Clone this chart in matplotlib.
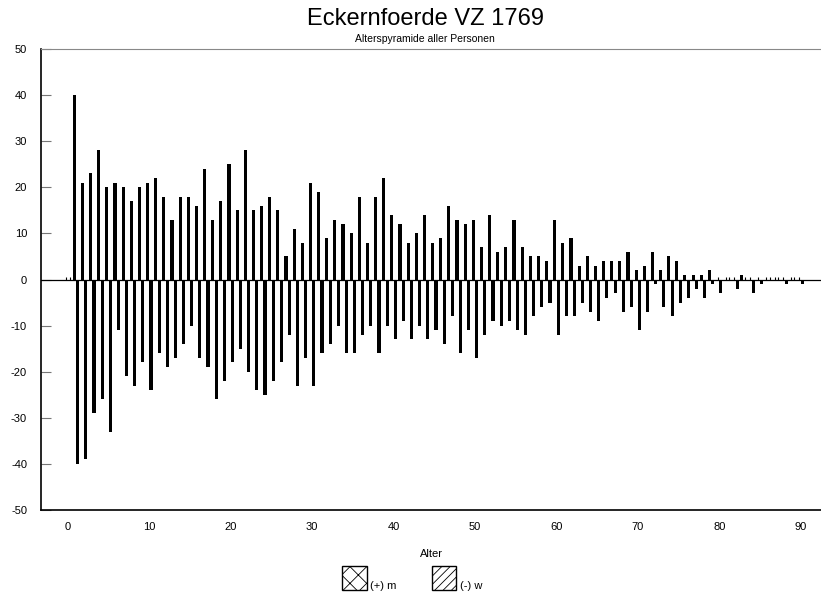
import numpy as np
import matplotlib
matplotlib.use("Agg")
import matplotlib.pyplot as plt
from matplotlib.patches import Patch

plt.rcParams['font.family'] = ['Liberation Sans', 'DejaVu Sans']
plt.rcParams['hatch.linewidth'] = 0.6
plt.rcParams['axes.unicode_minus'] = False

# Alter 0..90
ages = np.arange(0, 91)

# maennlich (+)
m = [0, 40, 21, 23, 28, 20, 21, 20, 17, 20,
     21, 22, 18, 13, 18, 18, 16, 24, 13, 17,
     25, 15, 28, 15, 16, 18, 15, 5, 11, 8,
     21, 19, 9, 13, 12, 10, 18, 8, 18, 22,
     14, 12, 8, 10, 14, 8, 9, 16, 13, 12,
     13, 7, 14, 6, 7, 13, 7, 5, 5, 4,
     13, 8, 9, 3, 5, 3, 4, 4, 4, 6,
     2, 3, 6, 2, 5, 4, 1, 1, 1, 2,
     0, 0, 0, 1, 0, 0, 0, 0, 0, 0, 0]

# weiblich (-)
w = [0, -40, -39, -29, -26, -33, -11, -21, -23, -18,
     -24, -16, -19, -17, -14, -10, -17, -19, -26, -22,
     -18, -15, -20, -24, -25, -22, -18, -12, -23, -17,
     -23, -16, -14, -10, -16, -16, -12, -10, -16, -10,
     -13, -9, -13, -10, -13, -11, -14, -8, -16, -11,
     -17, -12, -9, -10, -9, -11, -12, -8, -6, -5,
     -12, -8, -8, -5, -7, -9, -4, -3, -7, -6,
     -11, -7, -1, -6, -8, -5, -4, -2, -4, -1,
     -3, 0, -2, 0, -3, -1, 0, 0, -1, 0, -1]

yticks = list(range(-50, 51, 10))
xticks = list(range(0, 91, 10))

m = np.array(m)
w = np.array(w)

fig = plt.figure(figsize=(8.21, 5.95), dpi=100)
ax = fig.add_axes([41/821, (595-510)/595, 780/821, 461/595])

bw = 0.38
ax.bar(ages - 0.21, m, width=bw, color='black', linewidth=0)
ax.bar(ages + 0.21, w, width=bw, color='black', linewidth=0)

# leere Jahrgaenge als kleine Striche
zm = ages[m == 0]
zw = ages[w == 0]
ax.vlines(zm - 0.21, 0, 0.6, color='black', linewidth=0.8)
ax.vlines(zw + 0.21, 0, 0.6, color='black', linewidth=0.8)

ax.axhline(0, color='black', linewidth=0.9)

ax.set_xlim(-3.3, 92.5)
ax.set_ylim(-50, 50)
ax.set_yticks(yticks)
ax.set_xticks(xticks)
ax.tick_params(axis='y', direction='in', length=7, color='#777777', labelsize=8, pad=10)
ax.tick_params(axis='x', length=0, labelsize=8, pad=9)

ax.spines['right'].set_visible(False)
ax.spines['top'].set_color('#888888')
ax.spines['left'].set_linewidth(1.2)
ax.spines['bottom'].set_linewidth(1.2)

ax.set_xlabel('Alter', fontsize=8, labelpad=12)

fig.text(425/821, 1 - 19/595, 'Eckernfoerde VZ 1769', ha='center', va='center', fontsize=17)
fig.text(425/821, 1 - 39/595, 'Alterspyramide aller Personen', ha='center', va='center', fontsize=7.5)

handles = [Patch(facecolor='white', edgecolor='black', hatch='xx', linewidth=1),
           Patch(facecolor='white', edgecolor='black', hatch='////', linewidth=1)]
leg = fig.legend(handles, ['(+) m', '(-) w'], loc='center', bbox_to_anchor=(412/821, 1 - 578/595),
                 ncol=2, frameon=False, fontsize=8, handlelength=2.2, handleheight=2.9,
                 handletextpad=0.3, columnspacing=3.2)
for t in leg.get_texts():
    t.set_va('top')

fig.savefig('out.png', dpi=100)
